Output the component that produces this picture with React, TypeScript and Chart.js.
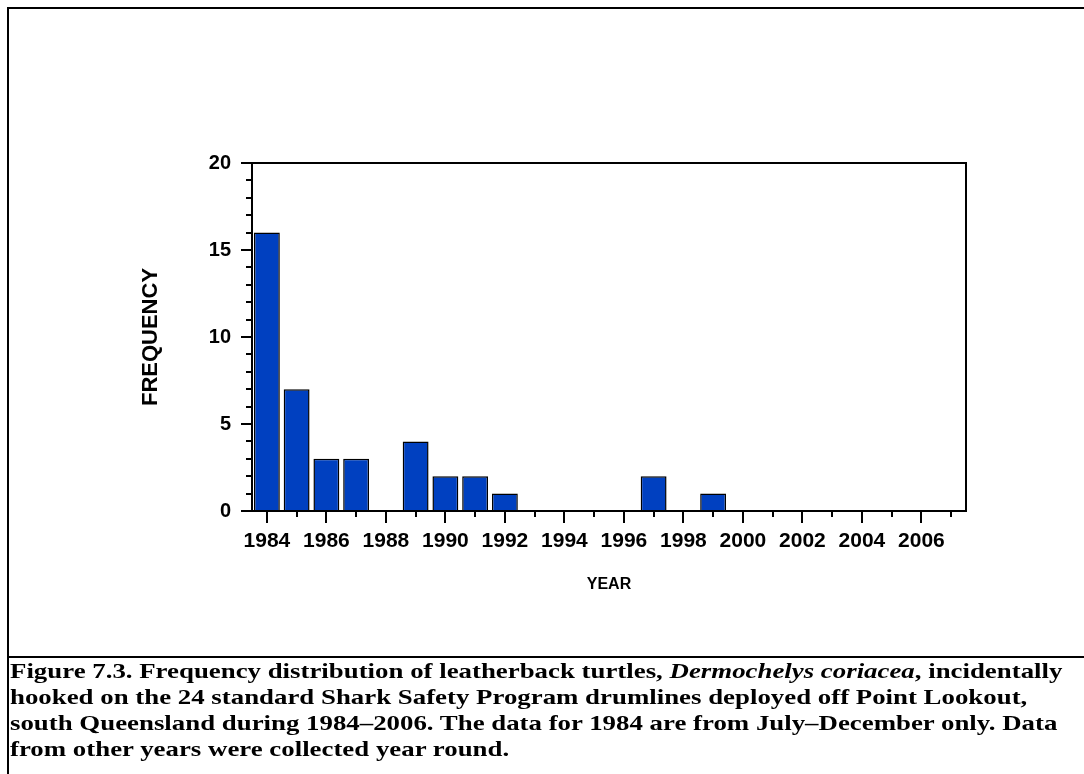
import React, { useEffect, useRef } from "react";
import { Chart, registerables } from "chart.js";

Chart.register(...registerables);

const years: string[] = [
  "1984", "1985", "1986", "1987", "1988", "1989", "1990", "1991",
  "1992", "1993", "1994", "1995", "1996", "1997", "1998", "1999",
  "2000", "2001", "2002", "2003", "2004", "2005", "2006", "2007",
];
const frequency: number[] = [
  16, 7, 3, 3, 0, 4, 2, 2,
  1, 0, 0, 0, 0, 2, 0, 1,
  0, 0, 0, 0, 0, 0, 0, 0,
];
const yTicks: number[] = [0, 5, 10, 15, 20];
const xTitle = "YEAR";
const yTitle = "FREQUENCY";

const SANS = "'Liberation Sans', Arial, sans-serif";

const axesPlugin = {
  id: "axesPlugin",
  afterDatasetsDraw(chart: any) {
    const { ctx, chartArea } = chart;
    const { left, right, top, bottom } = chartArea;
    const xs = chart.scales.x;
    const ys = chart.scales.y;
    ctx.save();
    ctx.strokeStyle = "#000";
    ctx.lineWidth = 2;
    ctx.beginPath();
    ctx.rect(left, top, right - left, bottom - top);
    ctx.stroke();
    // y ticks: minor each unit, major every 5
    ctx.beginPath();
    for (let v = ys.min; v <= ys.max; v += 1) {
      const y = Math.round(ys.getPixelForValue(v));
      const len = yTicks.includes(v) ? 11 : 6;
      ctx.moveTo(left - len, y);
      ctx.lineTo(left, y);
    }
    // x ticks: major for labelled (even) years, minor otherwise
    years.forEach((yr, i) => {
      const x = Math.round(xs.getPixelForValue(i));
      const len = parseInt(yr, 10) % 2 === 0 ? 12 : 6;
      ctx.moveTo(x, bottom);
      ctx.lineTo(x, bottom + len);
    });
    ctx.stroke();
    ctx.restore();
  },
};

export default function App() {
  const ref = useRef<HTMLCanvasElement | null>(null);

  useEffect(() => {
    if (!ref.current) return;
    const chart = new Chart(ref.current, {
      type: "bar",
      data: {
        labels: years,
        datasets: [
          {
            data: frequency,
            backgroundColor: "#0040C0",
            borderColor: "#000",
            borderWidth: 1.5,
            barPercentage: 0.87,
            categoryPercentage: 1,
          },
        ],
      },
      options: {
        responsive: false,
        animation: false,
        devicePixelRatio: 1,
        layout: { padding: { left: 100, top: 163, right: 118, bottom: 10 } },
        plugins: { legend: { display: false }, tooltip: { enabled: false } },
        scales: {
          x: {
            offset: true,
            grid: { display: false, drawTicks: true, tickLength: 12 },
            border: { display: false },
            ticks: {
              autoSkip: false,
              maxRotation: 0,
              minRotation: 0,
              padding: 6,
              color: "#000",
              font: { family: SANS, size: 21, weight: "bold" },
              callback: (_v: any, i: number) =>
                parseInt(years[i], 10) % 2 === 0 ? years[i] : "",
            },
            title: {
              display: true,
              text: xTitle,
              color: "#000",
              font: { family: SANS, size: 16, weight: "bold" },
              padding: { top: 0, bottom: 7 },
            },
            afterFit: (s: any) => {
              s.height = 90;
            },
          },
          y: {
            min: 0,
            max: 20,
            grid: { display: false, drawTicks: true, tickLength: 11 },
            border: { display: false },
            ticks: {
              stepSize: 5,
              padding: 10,
              color: "#000",
              font: { family: SANS, size: 20, weight: "bold" },
            },
            title: {
              display: true,
              text: yTitle,
              color: "#000",
              font: { family: SANS, size: 22, weight: "bold" },
              padding: { top: 38, bottom: 0 },
            },
            afterFit: (s: any) => {
              s.width = 152;
            },
          },
        },
      },
      plugins: [axesPlugin],
    });
    return () => chart.destroy();
  }, []);

  return (
    <>
      <div
        style={{
          position: "fixed",
          left: 7,
          top: 7,
          right: 0,
          bottom: 0,
          borderTop: "2px solid #000",
          borderLeft: "2px solid #000",
          boxSizing: "border-box",
        }}
      />
      <canvas
        ref={ref}
        width={1084}
        height={611}
        style={{ position: "fixed", left: 0, top: 0, width: 1084, height: 611 }}
      />
      <div
        style={{
          position: "fixed",
          left: 7,
          top: 656,
          right: 0,
          height: 2,
          background: "#000",
        }}
      />
      <div
        style={{
          position: "fixed",
          left: 10,
          top: 658,
          fontFamily: "'Liberation Serif', 'Times New Roman', serif",
          fontWeight: "bold",
          fontSize: 22,
          lineHeight: "26px",
          whiteSpace: "nowrap",
          color: "#000",
          transform: "scaleX(1.22)",
          transformOrigin: "left top",
        }}
      >
        Figure 7.3. Frequency distribution of leatherback turtles, <i>Dermochelys coriacea</i>, incidentally
        <br />
        hooked on the 24 standard Shark Safety Program drumlines deployed off Point Lookout,
        <br />
        south Queensland during 1984–2006. The data for 1984 are from July–December only. Data
        <br />
        from other years were collected year round.
      </div>
    </>
  );
}
